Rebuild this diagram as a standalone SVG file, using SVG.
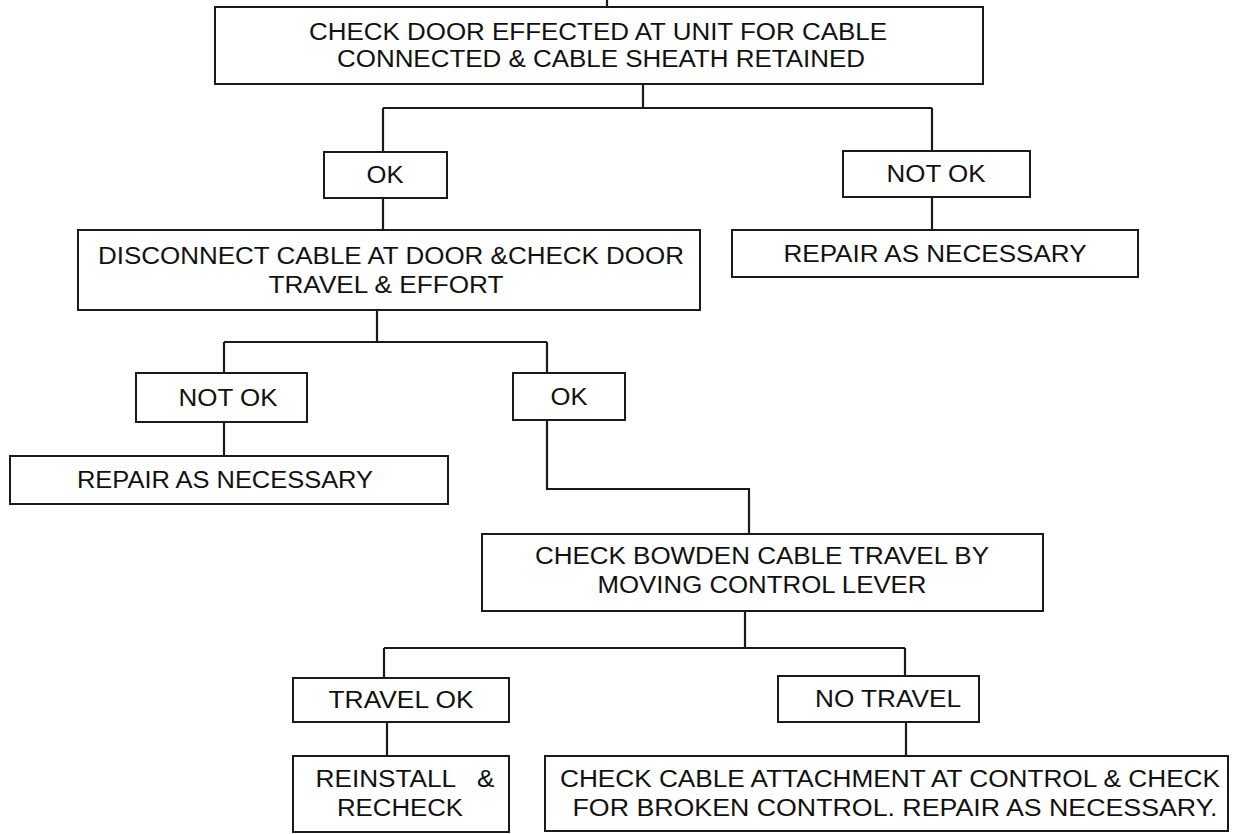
<svg xmlns="http://www.w3.org/2000/svg" width="1234" height="834" viewBox="0 0 1234 834">
<style>
.box{fill:#fff;stroke:#1a1a1a;stroke-width:2}
.t{font-family:"Liberation Sans",Arial,Helvetica,sans-serif;font-size:23px;fill:#111;text-anchor:middle}
.c{fill:none;stroke:#1a1a1a;stroke-width:2.2}
</style>
<rect width="1234" height="834" fill="#fff"/>
<g id="connectors">
<path class="c" d="M607,0 V7"/>
<path class="c" d="M643,84 V108 M383,108 H932 M383,108 V152 M932,108 V151"/>
<path class="c" d="M383,198 V230"/>
<path class="c" d="M932,197 V230"/>
<path class="c" d="M377,310 V342 M224,342 H547 M224,342 V373 M547,342 V373"/>
<path class="c" d="M224,422 V456"/>
<path class="c" d="M547,420 V489 H749 V534"/>
<path class="c" d="M745,611 V648 M384,648 H905 M384,648 V678 M905,648 V676"/>
<path class="c" d="M387,722 V756"/>
<path class="c" d="M906,722 V756"/>
</g>
<g id="n1"><rect class="box" x="215" y="7" width="768" height="77"/>
<text class="t" x="598" y="40" textLength="578" lengthAdjust="spacingAndGlyphs">CHECK DOOR EFFECTED AT UNIT FOR CABLE</text>
<text class="t" x="601" y="67" textLength="528" lengthAdjust="spacingAndGlyphs">CONNECTED &amp; CABLE SHEATH RETAINED</text></g>
<g id="n2"><rect class="box" x="324" y="152" width="123" height="46"/>
<text class="t" x="385" y="183" textLength="37" lengthAdjust="spacingAndGlyphs">OK</text></g>
<g id="n3"><rect class="box" x="843" y="151" width="187" height="46"/>
<text class="t" x="936" y="182" textLength="99" lengthAdjust="spacingAndGlyphs">NOT OK</text></g>
<g id="n4"><rect class="box" x="732" y="230" width="406" height="47"/>
<text class="t" x="935" y="262" textLength="303" lengthAdjust="spacingAndGlyphs">REPAIR AS NECESSARY</text></g>
<g id="n5"><rect class="box" x="78" y="230" width="622" height="80"/>
<text class="t" x="391" y="264" textLength="586" lengthAdjust="spacingAndGlyphs">DISCONNECT CABLE AT DOOR &amp;CHECK DOOR</text>
<text class="t" x="386" y="293" textLength="235" lengthAdjust="spacingAndGlyphs">TRAVEL &amp; EFFORT</text></g>
<g id="n6"><rect class="box" x="136" y="373" width="171" height="49"/>
<text class="t" x="228" y="406" textLength="99" lengthAdjust="spacingAndGlyphs">NOT OK</text></g>
<g id="n7"><rect class="box" x="10" y="456" width="438" height="48"/>
<text class="t" x="225" y="488" textLength="296" lengthAdjust="spacingAndGlyphs">REPAIR AS NECESSARY</text></g>
<g id="n8"><rect class="box" x="513" y="373" width="112" height="47"/>
<text class="t" x="569" y="405" textLength="37" lengthAdjust="spacingAndGlyphs">OK</text></g>
<g id="n9"><rect class="box" x="482" y="534" width="561" height="77"/>
<text class="t" x="762" y="564" textLength="454" lengthAdjust="spacingAndGlyphs">CHECK BOWDEN CABLE TRAVEL BY</text>
<text class="t" x="762" y="593" textLength="329" lengthAdjust="spacingAndGlyphs">MOVING CONTROL LEVER</text></g>
<g id="n10"><rect class="box" x="293" y="678" width="216" height="44"/>
<text class="t" x="401" y="708" textLength="145" lengthAdjust="spacingAndGlyphs">TRAVEL OK</text></g>
<g id="n11"><rect class="box" x="778" y="676" width="201" height="46"/>
<text class="t" x="888" y="707" textLength="146" lengthAdjust="spacingAndGlyphs">NO TRAVEL</text></g>
<g id="n12"><rect class="box" x="293" y="756" width="216" height="76"/>
<text class="t" x="405" y="787" textLength="179" lengthAdjust="spacingAndGlyphs" xml:space="preserve">REINSTALL   &amp;</text>
<text class="t" x="400" y="816" textLength="126" lengthAdjust="spacingAndGlyphs">RECHECK</text></g>
<g id="n13"><rect class="box" x="545" y="756" width="683" height="75"/>
<text class="t" x="890" y="787" textLength="660" lengthAdjust="spacingAndGlyphs">CHECK CABLE ATTACHMENT AT CONTROL &amp; CHECK</text>
<text class="t" x="895" y="816" textLength="645" lengthAdjust="spacingAndGlyphs">FOR BROKEN CONTROL. REPAIR AS NECESSARY.</text></g>
</svg>
